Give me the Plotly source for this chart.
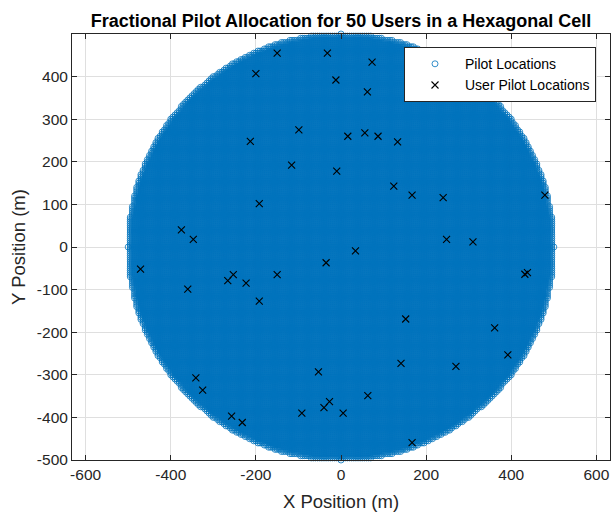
import numpy as np
import plotly.graph_objects as go

# ---------------- data ----------------
TITLE = "Fractional Pilot Allocation for 50 Users in a Hexagonal Cell"
X_LABEL = "X Position (m)"
Y_LABEL = "Y Position (m)"
PILOT_NAME = "Pilot Locations"
USER_NAME = "User Pilot Locations"

# pilot lattice: regular grid of candidate pilot positions inside the cell
CELL_RADIUS = 500.0      # m
PILOT_GRID_STEP = 5.0    # m

# user pilot locations, metres
user_x = [-150, -32, -200, -12, -99, 16, -213, -116, -10, -192,
          -375, -347, 73, 62, 56, 87, 133, 124, 167, 240,
          479, 248, 310, -471, -360, -266, -253, -223, -150, -192,
          -35, -341, -325, -257, -232, -92, -53, -40, -27, 5,
          34, 432, 438, 152, 361, 392, 141, 270, 63, 167]
user_y = [455, 455, 407, 392, 275, 260, 248, 192, 178, 102,
          40, 18, 434, 364, 268, 260, 247, 143, 122, 116,
          122, 18, 12, -52, -99, -79, -65, -85, -65, -127,
          -37, -307, -336, -397, -412, -390, -293, -377, -363, -390,
          -9, -64, -60, -169, -190, -253, -273, -280, -349, -459]

x_ticks = [-600, -400, -200, 0, 200, 400, 600]
x_tick_labels = ["-600", "-400", "-200", "0", "200", "400", "600"]
y_ticks = [-500, -400, -300, -200, -100, 0, 100, 200, 300, 400]
y_tick_labels = ["-500", "-400", "-300", "-200", "-100", "0", "100", "200", "300", "400"]
x_range = [-632, 632]
y_range = [-500, 500]

# build the pilot lattice
g = np.arange(-CELL_RADIUS, CELL_RADIUS + PILOT_GRID_STEP / 2, PILOT_GRID_STEP)
GX, GY = np.meshgrid(g, g)
inside = GX ** 2 + GY ** 2 <= CELL_RADIUS ** 2 + 1e-6
pilot_x = GX[inside]
pilot_y = GY[inside]

# ---------------- figure ----------------
FONT = "Liberation Sans, Arial, Helvetica, sans-serif"
AX = "#262626"
GRID = "#dfdfdf"
BLUE = "#0072BD"

fig = go.Figure()
fig.add_trace(go.Scatter(
    x=pilot_x, y=pilot_y, mode="markers", name=PILOT_NAME,
    marker=dict(symbol="circle-open", size=6, color=BLUE,
                line=dict(width=0.8, color=BLUE)),
    cliponaxis=False, hoverinfo="skip"))
fig.add_trace(go.Scatter(
    x=user_x, y=user_y, mode="markers", name=USER_NAME,
    marker=dict(symbol="x-thin", size=7, color="black",
                line=dict(width=1.1, color="black")),
    cliponaxis=False))

axis_common = dict(
    showgrid=True, gridcolor=GRID, gridwidth=1, zeroline=False,
    showline=True, linecolor=AX, linewidth=1, mirror="ticks",
    ticks="inside", ticklen=5, tickcolor=AX, tickwidth=1,
    tickfont=dict(family=FONT, size=15.5, color=AX),
)

fig.update_layout(
    width=612, height=512,
    margin=dict(l=72, r=2, t=34, b=52, autoexpand=False),
    paper_bgcolor="white", plot_bgcolor="white",
    title=dict(text=TITLE, x=0.5, xref="paper", xanchor="center",
               y=1 - 20.5 / 512, yref="container", yanchor="middle",
               font=dict(family=FONT, size=18, color="black", weight="bold")),
    xaxis=dict(range=x_range, tickvals=x_ticks, ticktext=x_tick_labels,
               **axis_common,
               title=dict(text=X_LABEL, standoff=14,
                          font=dict(family=FONT, size=18.5, color=AX))),
    yaxis=dict(range=y_range, tickvals=y_ticks, ticktext=y_tick_labels,
               **axis_common,
               title=dict(text=Y_LABEL, standoff=6,
                          font=dict(family=FONT, size=18.5, color=AX))),
    showlegend=True,
    legend=dict(x=0.974, y=0.969, xanchor="right", yanchor="top",
                bgcolor="white", bordercolor=AX, borderwidth=1,
                font=dict(family=FONT, size=14, color="black"),
                itemsizing="trace", itemwidth=50, tracegroupgap=0),
)

fig.write_html("out.html")
